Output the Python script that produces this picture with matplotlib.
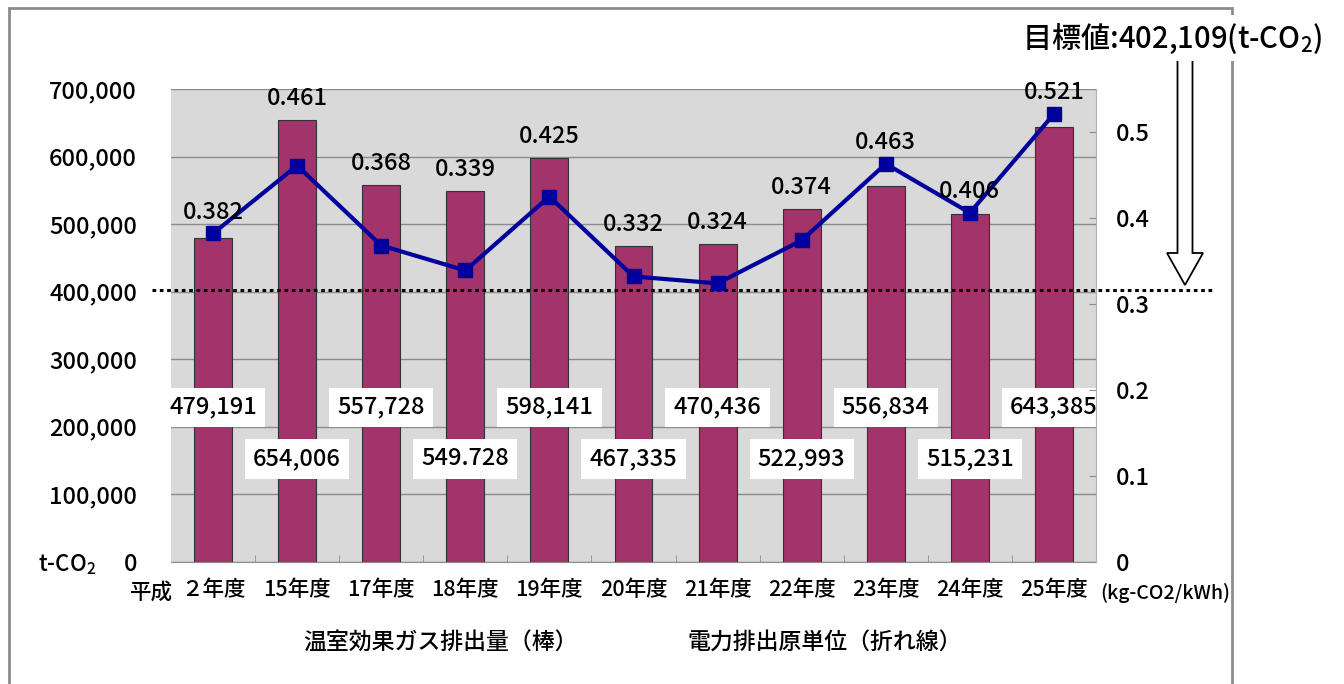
import matplotlib
matplotlib.use('Agg')
import matplotlib.pyplot as plt
from matplotlib.patches import Rectangle, FancyArrow
from matplotlib.ticker import FuncFormatter, MultipleLocator

plt.rcParams['font.family'] = ['Noto Sans CJK JP', 'DejaVu Sans']
plt.rcParams['font.weight'] = 'medium'
plt.rcParams['mathtext.fontset'] = 'custom'
plt.rcParams['mathtext.rm'] = 'Noto Sans CJK JP'

years = ['２年度', '15年度', '17年度', '18年度', '19年度', '20年度',
         '21年度', '22年度', '23年度', '24年度', '25年度']
emissions = [479191, 654006, 557728, 549728, 598141, 467335,
             470436, 522993, 556834, 515231, 643385]
emission_labels = ['479,191', '654,006', '557,728', '549.728', '598,141', '467,335',
                   '470,436', '522,993', '556,834', '515,231', '643,385']
factors = [0.382, 0.461, 0.368, 0.339, 0.425, 0.332, 0.324, 0.374, 0.463, 0.406, 0.521]
target = 402109

W, H = 1344, 684
def fx(x): return x / W
def fy(y): return 1 - y / H

fig = plt.figure(figsize=(13.44, 6.84), dpi=100)
ax = fig.add_axes([fx(171), fy(562), fx(1096) - fx(171), fy(89) - fy(562)])
ax2 = ax.twinx()

x = list(range(len(years)))
ax.set_facecolor('#d9d9d9')
ax.bar(x, emissions, width=0.45, color='#a3346b', edgecolor='#333333', linewidth=0.8, zorder=3)
ax.set_xlim(-0.5, len(years) - 0.5)
ax.set_ylim(0, 700000)
ax.yaxis.set_major_locator(MultipleLocator(100000))
ax.yaxis.set_major_formatter(FuncFormatter(lambda v, p: '0' if v == 0 else f'{int(v):,}'))
ax.grid(axis='y', color='#8c8c8c', linewidth=1, zorder=0)
ax.set_axisbelow(True)
for s in ['left', 'top', 'right']:
    ax.spines[s].set_visible(False)
ax.spines['bottom'].set_color('#8c8c8c')
ax.tick_params(axis='y', length=0, pad=24.5, labelsize=17)
ax.set_xticks([i + 0.5 for i in x[:-1]], minor=True)
ax.set_xticks(x)
ax.set_xticklabels(years)
ax.tick_params(axis='x', which='major', length=0, pad=12, labelsize=15.5)
ax.tick_params(axis='x', which='minor', direction='in', length=5, color='#8c8c8c')

# bar value labels (alternating heights)
for i, lab in enumerate(emission_labels):
    yfrac = 0.327 if i % 2 == 0 else 0.218
    ax.text(i, yfrac, lab, transform=ax.get_xaxis_transform(), ha='center', va='center',
            fontsize=17, zorder=5,
            bbox=dict(boxstyle='square,pad=0.35', fc='white', ec='none'))

# target dotted line
ax.axhline(target, xmin=(152 - 171) / 925, xmax=(1215 - 171) / 925, color='black',
           linestyle=(0, (1.2, 1.2)), linewidth=2.2, clip_on=False, zorder=6)

# line series
ax2.set_ylim(0, 0.55)
ax2.plot(x, factors, color='#00009c', linewidth=3, marker='s', markersize=10, zorder=4)
ax2.yaxis.set_major_locator(MultipleLocator(0.1))
ax2.yaxis.set_major_formatter(FuncFormatter(lambda v, p: '0' if abs(v) < 1e-9 else f'{v:.1f}'))
ax2.tick_params(axis='y', direction='in', length=5, color='#8c8c8c', pad=14, labelsize=17)
for s in ['left', 'top', 'bottom']:
    ax2.spines[s].set_visible(False)
ax2.spines['right'].set_color('#b0b0b0')
for i, f in enumerate(factors):
    top = max(f, emissions[i] / 700000 * 0.55)
    ax2.annotate(f'{f:.3f}', (i, top), xytext=(0, 7), textcoords='offset points',
                 ha='center', va='bottom', fontsize=17, zorder=7)

# outer frame
fig.patches.append(Rectangle((fx(9), fy(700)), fx(1232) - fx(9), fy(8) - fy(700),
                             transform=fig.transFigure, fill=False, ec='#8c8c8c', lw=2))

# arrow to target
fig.patches.append(FancyArrow(fx(1185), fy(58), 0, fy(285) - fy(58), width=fx(15),
                              head_width=fx(36), head_length=fy(253) - fy(285),
                              length_includes_head=True, transform=fig.transFigure,
                              fc='white', ec='black', lw=1.3))

fig.text(fx(1022), fy(38), '目標値:402,109(t-CO$_2$)', fontsize=21, ha='left', va='center',
         bbox=dict(boxstyle='square,pad=0.2', fc='white', ec='none'))
fig.text(fx(96), fy(565), 't-CO$_2$', fontsize=16, ha='right', va='center')
fig.text(fx(130), fy(593), '平成', fontsize=15.5, ha='left', va='center')
fig.text(fx(1100), fy(593), '(kg-CO2/kWh)', fontsize=14, ha='left', va='center')
fig.text(fx(440), fy(642), '温室効果ガス排出量（棒）', fontsize=16.5, ha='center', va='center')
fig.text(fx(825), fy(642), '電力排出原単位（折れ線）', fontsize=16.5, ha='center', va='center')

fig.savefig('out.png', dpi=100)
